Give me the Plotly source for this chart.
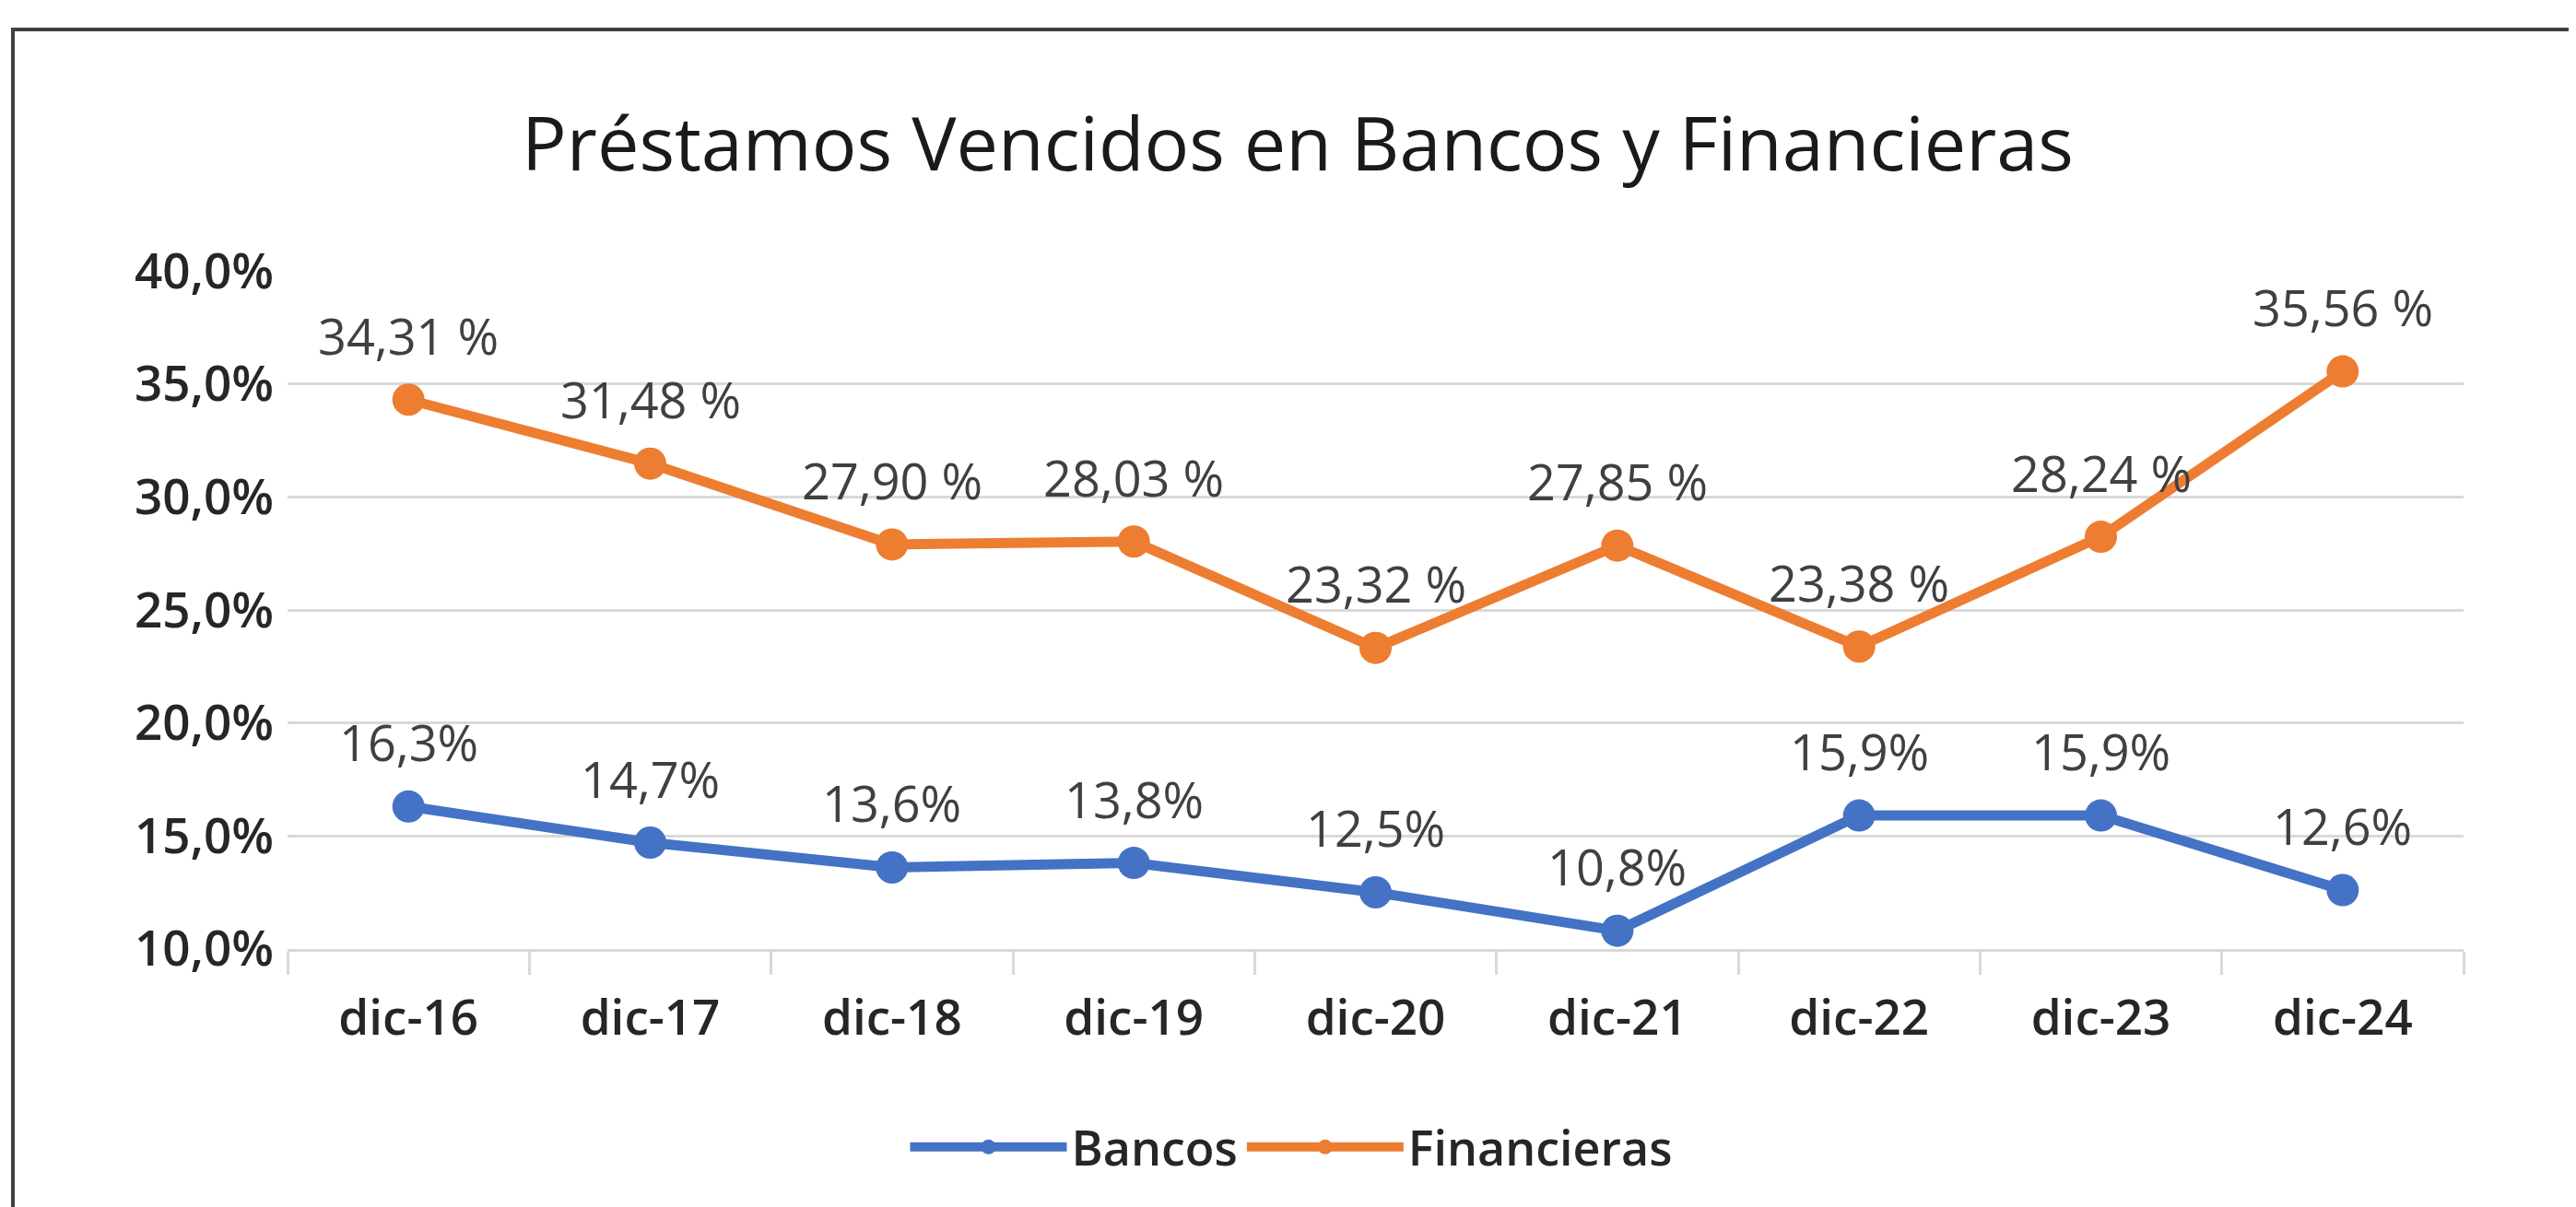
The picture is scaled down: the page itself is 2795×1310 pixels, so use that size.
import plotly.graph_objects as go

categories = ["dic-16", "dic-17", "dic-18", "dic-19", "dic-20", "dic-21", "dic-22", "dic-23", "dic-24"]
bancos = [16.3, 14.7, 13.6, 13.8, 12.5, 10.8, 15.9, 15.9, 12.6]
financieras = [34.31, 31.48, 27.90, 28.03, 23.32, 27.85, 23.38, 28.24, 35.56]
y_ticks = [10, 15, 20, 25, 30, 35, 40]

title_text = "Préstamos Vencidos en Bancos y Financieras"
BLUE = "#4472C4"
ORANGE = "#ED7D31"
FONT = "Open Sans"

# page is offset by the default 8px body margin
OFF = 8
W, H = 2795 - OFF, 1310 - OFF
ML = 312 - OFF
MT = 294 - OFF
PW, PH = 2361, 736
MR = W - ML - PW
MB = H - MT - PH

fig = go.Figure()
fig.add_trace(go.Scatter(
    x=categories, y=[v / 100 for v in bancos], name="Bancos",
    mode="lines+markers", line=dict(color=BLUE, width=11),
    marker=dict(size=35, color=BLUE), cliponaxis=False))
fig.add_trace(go.Scatter(
    x=categories, y=[v / 100 for v in financieras], name="Financieras",
    mode="lines+markers", line=dict(color=ORANGE, width=11),
    marker=dict(size=35, color=ORANGE), cliponaxis=False))

annotations = []
for c, v in zip(categories, bancos):
    annotations.append(dict(x=c, y=v / 100, text=f"{v:.1f}%".replace(".", ","),
                            showarrow=False, yshift=70,
                            font=dict(family=FONT, size=54, color="#404040")))
for c, v in zip(categories, financieras):
    annotations.append(dict(x=c, y=v / 100, text=f"{v:.2f} %".replace(".", ","),
                            showarrow=False, yshift=70,
                            font=dict(family=FONT, size=54, color="#404040")))

def px_to_paper_x(px):
    return (px - OFF - ML) / PW

def px_to_paper_y(py):
    return (MT + PH - (py - OFF)) / PH

x0 = px_to_paper_x(14)
y0 = px_to_paper_y(32)
xr = px_to_paper_x(2795 + 40)
yb = px_to_paper_y(1310 + 40)
border = dict(type="path", xref="paper", yref="paper",
              path=f"M {x0},{yb} L {x0},{y0} L {xr},{y0}",
              line=dict(color="#404040", width=4))

fig.update_layout(
    width=W, height=H,
    margin=dict(l=ML, r=MR, t=MT, b=MB),
    paper_bgcolor="white", plot_bgcolor="white",
    separators=",.",
    font=dict(family=FONT, color="#1f1f1f"),
    title=dict(text=title_text, x=(1408 - OFF) / W, xref="container", xanchor="center",
               y=1 - (157 - OFF) / H, yref="container", yanchor="middle",
               font=dict(family=FONT, size=81, color="#1a1a1a")),
    xaxis=dict(type="category", range=[-0.5, len(categories) - 0.5],
               tickson="boundaries", ticks="outside", ticklen=25,
               tickcolor="#d9d9d9", tickwidth=3,
               showline=True, linecolor="#d9d9d9", linewidth=3,
               showgrid=False, ticklabelstandoff=26,
               tickfont=dict(family=FONT, size=53, color="#262626", weight=600)),
    yaxis=dict(range=[0.0999, 0.4001], tickvals=[t / 100 for t in y_ticks],
               tickformat=".1%", showgrid=True, gridcolor="#d9d9d9", gridwidth=3,
               zeroline=False, showline=False, ticks="", ticklabelstandoff=14,
               tickfont=dict(family=FONT, size=53, color="#262626", weight=600)),
    legend=dict(orientation="h", xref="container", yref="container",
                x=(1401 - OFF) / W, xanchor="center", y=1 - (1245 - OFF) / H, yanchor="middle",
                itemwidth=170,
                font=dict(family=FONT, size=52, color="#262626", weight=600)),
    annotations=annotations,
    shapes=[border],
    showlegend=True,
)

fig.write_html("out.html")
